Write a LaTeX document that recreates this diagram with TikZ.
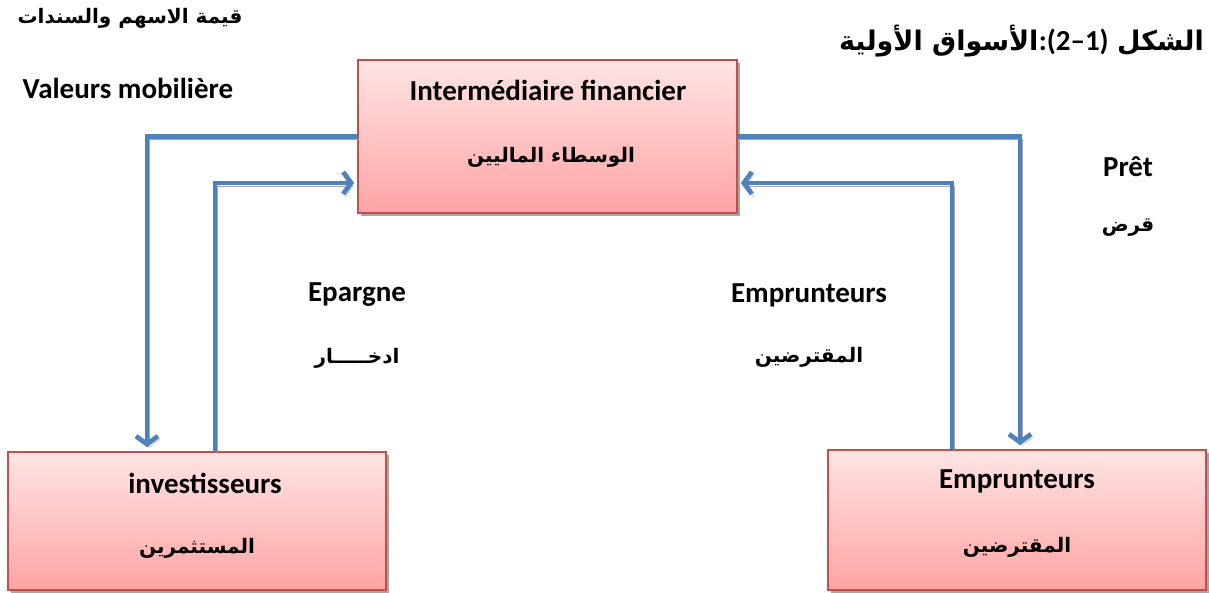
\documentclass[tikz,border=0pt]{standalone}
\usepackage{fontspec}
\setmainfont{Carlito}
\newfontfamily\ar[Script=Arabic]{DejaVu Sans}
\TeXXeTstate=1
\usetikzlibrary{arrows.meta}
\definecolor{bord}{HTML}{C0504D}
\definecolor{ptop}{HTML}{FFE4E4}
\definecolor{pbot}{HTML}{FFA4A4}
\definecolor{blu}{HTML}{4F81BD}
\tikzset{
  box/.style={draw=bord, line width=1.8pt, top color=ptop, bottom color=pbot, rectangle, inner sep=0pt,
    preaction={fill=black!35, transform canvas={shift={(3pt,-3pt)}}}},
  flow/.style={draw=blu, line width=4.8pt, -{Straight Barb[length=8pt,width=22pt]},
    preaction={draw=black!35, transform canvas={shift={(2pt,-3pt)}}}},
  lat/.style={font=\fontsize{29}{34}\selectfont\bfseries, inner sep=0pt},
  arb/.style={font=\fontsize{20}{24}\selectfont\ar\bfseries, inner sep=0pt},
  ttl/.style={font=\fontsize{27}{32}\selectfont\ar\bfseries, inner sep=0pt, anchor=base east},
}
\begin{document}
\begin{tikzpicture}[x=1pt,y=-1pt]
\useasboundingbox (0,0) rectangle (1209,592);
% boxes
\node[box, minimum width=379pt, minimum height=153pt] (inter) at (547.5,136.5) {};
\node[box, minimum width=378pt, minimum height=138pt] (inv) at (197,521) {};
\node[box, minimum width=378pt, minimum height=140pt] (emp) at (1017,520) {};
% connectors
\draw[flow, shorten >=4pt] (inter.west) -| ([xshift=-50pt]inv.north);
\draw[flow, shorten >=3pt] ([xshift=18pt]inv.north) |- ([yshift=-46.5pt]inter.west);
\draw[flow, shorten >=4pt] (inter.east) -| ([xshift=3pt]emp.north);
\draw[flow, shorten >=3pt] ([xshift=-65pt]emp.north) |- ([yshift=-46.5pt]inter.east);
% box texts
\node[lat] (interL) at (548,90) {Intermédiaire financier};
\node[arb] (interA) at (551,157) {\beginR الوسطاء الماليين\endR};
\node[lat] (invL) at (205,483) {investisseurs};
\node[arb] (invA) at (197,548) {\beginR المستثمرين\endR};
\node[lat] (empL) at (1017,481) {Emprunteurs};
\node[arb] (empA) at (1017,547) {\beginR المقترضين\endR};
% free labels
\node[arb] (qA) at (130,18) {\beginR قيمة الاسهم والسندات\endR};
\node[lat] (qL) at (128,88) {Valeurs mobilière};
\node[lat] (pL) at (1128,167) {Prêt};
\node[arb] (pA) at (1128,228) {\beginR قرض\endR};
\node[lat] (eL) at (357,295) {Epargne};
\node[arb] (eA) at (357,358) {\beginR ادخـــــار\endR};
\node[lat] (mL) at (809,295) {Emprunteurs};
\node[arb] (mA) at (809,357) {\beginR المقترضين\endR};
% title (right to left)
\node[ttl] (t1) at (1204,50) {\beginR الشكل\endR};
\node[ttl, font=\fontsize{29}{34}\selectfont\bfseries] (t2) at ([xshift=-8pt]t1.base west) {:(2–1)};
\node[ttl] (t3) at (t2.base west) {\beginR الأسواق الأولية\endR};
\end{tikzpicture}
\end{document}
